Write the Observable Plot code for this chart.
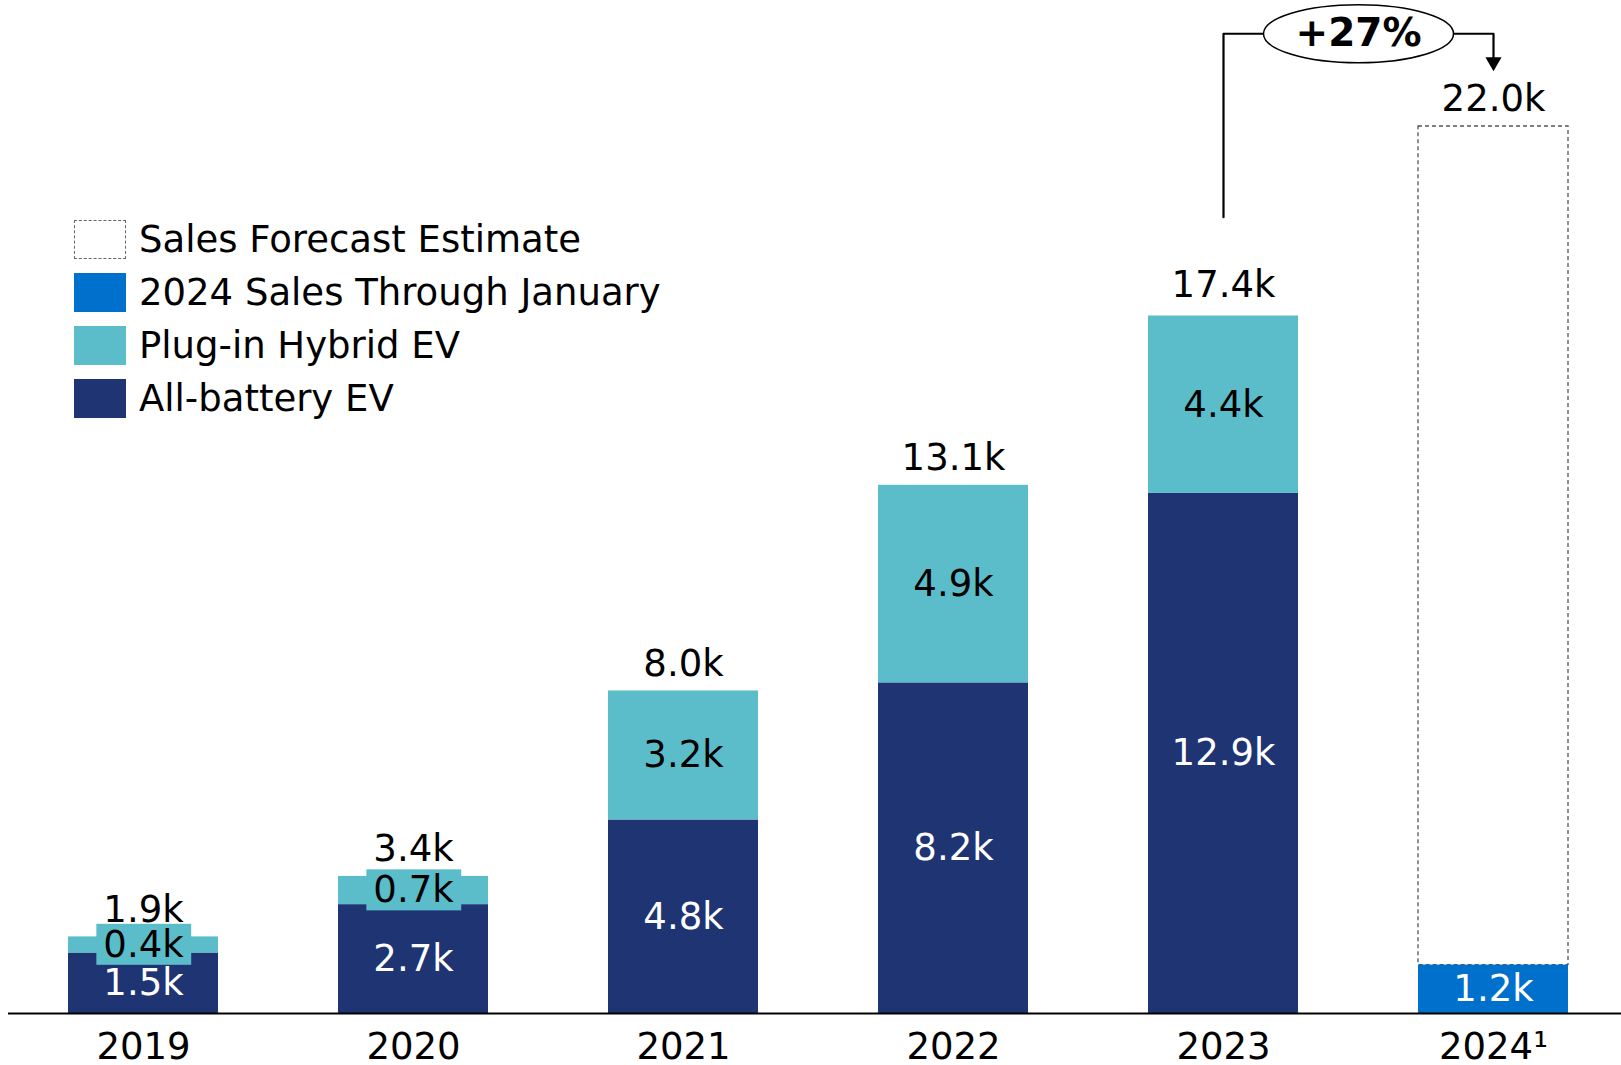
<!DOCTYPE html>
<html><head><meta charset="utf-8">
<script src="https://cdn.jsdelivr.net/npm/d3@7"></script>
<script src="https://cdn.jsdelivr.net/npm/@observablehq/plot@0.6"></script>
<style>
body{margin:0;background:#fff;}
#wrap{position:relative;width:1621px;height:1065px;font-family:"DejaVu Sans",sans-serif;}
#legend{position:absolute;left:74px;top:220px;}
.row{display:flex;align-items:center;height:39px;margin-bottom:14px;}
.sw{width:52px;height:39px;box-sizing:border-box;margin-right:13px;flex:none;}
.lab{font-size:37px;font-family:"DejaVu Sans",sans-serif;color:#000;line-height:39px;white-space:nowrap;}
</style></head>
<body><div id="wrap"><div id="legend"></div></div>
<script>
const years = ["2019","2020","2021","2022","2023","2024"];
const tickLabels = ["2019","2020","2021","2022","2023","2024\u00b9"];
const allBattery = [1.5, 2.7, 4.8, 8.2, 12.9, null];
const plugIn = [0.4, 0.7, 3.2, 4.9, 4.4, null];
const throughJan = [null, null, null, null, null, 1.2];
const forecast = [null, null, null, null, null, 22.0];
const totals = [1.9, 3.4, 8.0, 13.1, 17.4, 22.0];
const seriesNames = ["All-battery EV", "Plug-in Hybrid EV", "2024 Sales Through January"];
const seriesColors = ["#1f3473", "#5bbdc9", "#0070cd"];
const legendNames = ["Sales Forecast Estimate", "2024 Sales Through January", "Plug-in Hybrid EV", "All-battery EV"];
const legendColors = [null, "#0070cd", "#5bbdc9", "#1f3473"];
const growthLabel = "+27%";
const bracketPoints = [
  {year: "2023", y: 19.75},
  {year: "2023", y: 24.3},
  {year: "2024", y: 24.3},
  {year: "2024", y: 23.6}
];

const fmt = v => v.toFixed(1) + "k";
const rows = [];
years.forEach((yr, i) => {
  [allBattery[i], plugIn[i], throughJan[i]].forEach((v, k) => {
    if (v != null) rows.push({year: yr, series: seriesNames[k], value: v, k});
  });
});
const forecastRows = years.map((yr, i) => ({year: yr, y1: throughJan[i], y2: forecast[i]})).filter(d => d.y2 != null);
const totalRows = years.map((yr, i) => ({year: yr, total: totals[i]}));
const growthRows = [{year: bracketPoints[1].year, y: bracketPoints[1].y, label: growthLabel}];
const arrowRows = [bracketPoints[bracketPoints.length - 1]];

const xRange = [8, 1628], pIn = 0.4444, pOut = 0.2222;
const step = (xRange[1] - xRange[0]) / (years.length - pIn + 2 * pOut);

const ellipseSymbol = {draw(ctx) {
  const rx = 95, ry = 29, k = 0.5523;
  ctx.moveTo(rx, 0);
  ctx.bezierCurveTo(rx, ry * k, rx * k, ry, 0, ry);
  ctx.bezierCurveTo(-rx * k, ry, -rx, ry * k, -rx, 0);
  ctx.bezierCurveTo(-rx, -ry * k, -rx * k, -ry, 0, -ry);
  ctx.bezierCurveTo(rx * k, -ry, rx, -ry * k, rx, 0);
  ctx.closePath();
}};

const plot = Plot.plot({
  width: 1621, height: 1065,
  marginLeft: 8, marginRight: 0, marginTop: 0, marginBottom: 52,
  style: {fontFamily: "DejaVu Sans, sans-serif", fontSize: "37px", color: "black", background: "white", overflow: "visible"},
  x: {domain: years, range: xRange, paddingInner: pIn, paddingOuter: pOut, align: 0.5,
      tickSize: 0, tickPadding: 19, label: null, tickFormat: d => tickLabels[years.indexOf(d)]},
  y: {domain: [0, 22], range: [1013, 126], axis: null},
  color: {domain: seriesNames, range: seriesColors},
  marks: [
    Plot.barY(forecastRows, {x: "year", y1: "y1", y2: "y2", fill: "white", stroke: "#555", strokeWidth: 1.3, strokeDasharray: "4,3"}),
    Plot.barY(rows, {x: "year", y: "value", z: "series", fill: "series"}),
    Plot.ruleY([0], {stroke: "black", strokeWidth: 2}),
    Plot.text(rows, Plot.stackY({x: "year", y: "value", z: "series", text: d => d.k !== 1 ? fmt(d.value) : null, fill: "white", fontSize: 37})),
    Plot.text(rows, Plot.stackY({x: "year", y: "value", z: "series", text: d => d.k === 1 ? fmt(d.value) : null, fill: "black", fontSize: 37, ariaDescription: "phev-labels"})),
    Plot.text(totalRows, {x: "year", y: "total", text: d => fmt(d.total), dy: -27, fill: "black", fontSize: 37}),
    Plot.line(bracketPoints, {x: "year", y: "y", stroke: "black", strokeWidth: 2.2}),
    Plot.dot(arrowRows, {x: "year", y: "y", symbol: "triangle", r: 6, rotate: 180, fill: "black", stroke: "none"}),
    Plot.dot(growthRows, {x: "year", y: "y", dx: step / 2, symbol: ellipseSymbol, fill: "white", stroke: "black", strokeWidth: 1.5}),
    Plot.text(growthRows, {x: "year", y: "y", dx: step / 2, text: "label", fontWeight: "bold", fontSize: 39, fill: "black"})
  ]
});

const wrap = document.getElementById("wrap");
wrap.insertBefore(plot, wrap.firstChild);

// teal backgrounds behind plug-in hybrid labels
const ns = "http://www.w3.org/2000/svg";
const phevSet = new Set(plugIn.filter(v => v != null).map(fmt));
let groups = plot.querySelectorAll('g[aria-description="phev-labels"]');
let texts = [];
if (groups.length) groups.forEach(g => g.querySelectorAll("text").forEach(t => texts.push(t)));
else plot.querySelectorAll("text").forEach(t => { if (phevSet.has(t.textContent) && t.closest("g[aria-label='text']")) texts.push(t); });
texts.forEach(t => {
  const b = t.getBBox();
  const r = document.createElementNS(ns, "rect");
  r.setAttribute("x", b.x - 7);
  r.setAttribute("y", b.y + 1);
  r.setAttribute("width", b.width + 14);
  r.setAttribute("height", b.height - 2);
  r.setAttribute("fill", seriesColors[1]);
  if (t.getAttribute("transform")) r.setAttribute("transform", t.getAttribute("transform"));
  t.parentNode.insertBefore(r, t);
});

// legend
const legend = document.getElementById("legend");
legendNames.forEach((name, i) => {
  const row = document.createElement("div");
  row.className = "row";
  const sw = document.createElement("div");
  sw.className = "sw";
  if (legendColors[i]) sw.style.background = legendColors[i];
  else { sw.style.background = "white"; sw.style.border = "1.3px dashed #666"; }
  const lab = document.createElement("span");
  lab.className = "lab";
  lab.textContent = name;
  row.appendChild(sw); row.appendChild(lab);
  legend.appendChild(row);
});
</script>
</body></html>
